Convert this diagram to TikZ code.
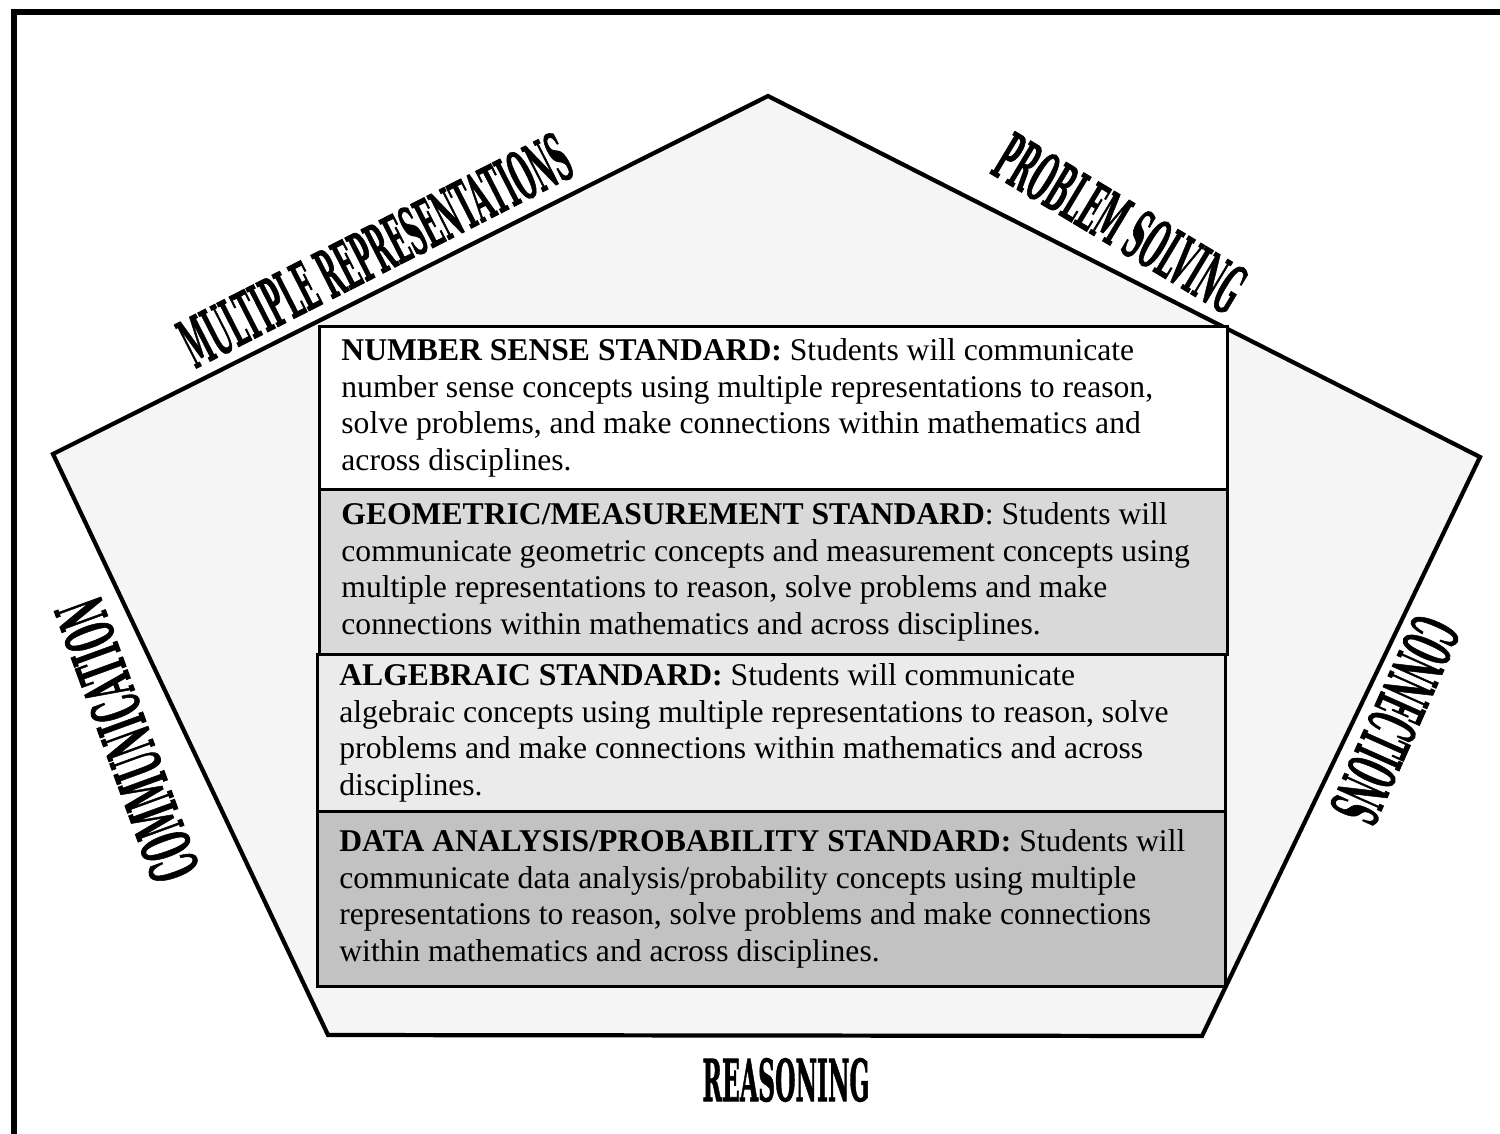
\documentclass[tikz,border=0pt]{standalone}
\usepackage{fontspec}
\setmainfont{Liberation Serif}
\newfontfamily\labelfont[RawFeature={embolden=1.5}]{DejaVu Serif Condensed Bold}
\usetikzlibrary{positioning}

\tikzset{
  stdbox/.style={draw=black, line width=0.8pt, anchor=north west, inner xsep=2.2mm, inner ysep=0pt,
    text width=86.4mm, align=flush left, font=\fontsize{9}{10.45}\selectfont},
  sidelabel/.style={font=\fontsize{19}{19}\selectfont\labelfont, inner sep=0pt},
}
\newcommand{\squeeze}[2]{\scalebox{#1}[1]{#2}}

\begin{document}
\begin{tikzpicture}[x=0.1mm, y=-0.1mm]
\useasboundingbox (0,0) rectangle (1500,1133);

% outer frame
\draw[line width=1.6pt] (14,1145) -- (14,12) -- (1515,12);

% pentagon corners
\coordinate (ptop) at (768,96);
\coordinate (pright) at (1480,457);
\coordinate (pbotright) at (1202,1036);
\coordinate (pbotleft) at (328,1035);
\coordinate (pleft) at (53,454);
\draw[line width=1.2pt, fill=black!4] (ptop) -- (pright) -- (pbotright) -- (pbotleft) -- (pleft) -- cycle;

% standards
\node[stdbox, fill=white, minimum width=90.3mm, minimum height=16.3mm] (numsense) at (318,325) {%
  \textbf{NUMBER SENSE STANDARD:} Students will communicate\\
  number sense concepts using multiple representations to reason,\\
  solve problems, and make connections within mathematics and\\
  across disciplines.};
\node[stdbox, fill=black!15, minimum width=90.6mm, minimum height=16.5mm] (geomeas) at (318,488) {%
  \textbf{GEOMETRIC/MEASUREMENT STANDARD}: Students will\\
  communicate geometric concepts and measurement concepts using\\
  multiple representations to reason, solve problems and make\\
  connections within mathematics and across disciplines.};
\node[stdbox, fill=black!8, minimum width=90.8mm, minimum height=15.7mm] (algebra) at (316,653) {%
  \textbf{ALGEBRAIC STANDARD:} Students will communicate\\
  algebraic concepts using multiple representations to reason, solve\\
  problems and make connections within mathematics and across\\
  disciplines.};
\node[stdbox, fill=black!24, minimum width=90.8mm, minimum height=17.5mm] (dataprob) at (316,810) {%
  \textbf{DATA ANALYSIS/PROBABILITY STANDARD:} Students will\\
  communicate data analysis/probability concepts using multiple\\
  representations to reason, solve problems and make connections\\
  within mathematics and across disciplines.};

% process labels round the pentagon
\node[sidelabel, rotate=27] (multrep) at (375,250) {\squeeze{0.40}{MULTIPLE REPRESENTATIONS}};
\node[sidelabel, rotate=-31] (probsolv) at (1120,223) {\squeeze{0.405}{PROBLEM SOLVING}};
\node[sidelabel, rotate=-114] (connect) at (1395,720) {\squeeze{0.41}{CONNECTIONS}};
\node[sidelabel, rotate=110] (commun) at (127,740) {\squeeze{0.46}{COMMUNICATION}};
\node[sidelabel, font=\fontsize{16.5}{16.5}\selectfont\labelfont] (reason) at (786,1080) {\squeeze{0.45}{REASONING}};
\end{tikzpicture}
\end{document}
